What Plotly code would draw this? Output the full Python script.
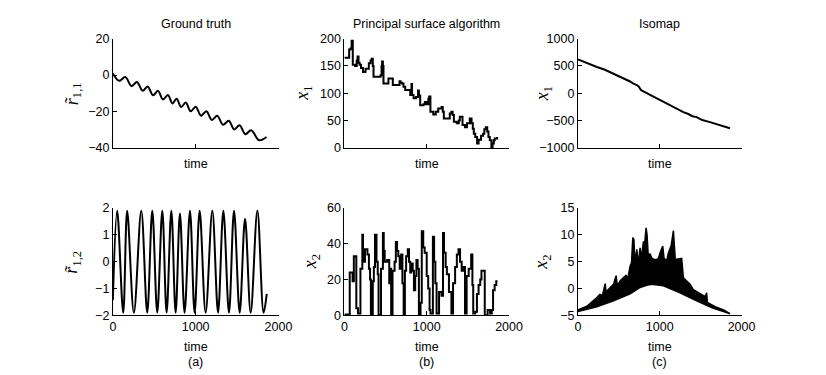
import plotly.graph_objects as go

# ground truth, first coordinate (extrema of the wiggles)
r11_t = [0, 75, 150, 225, 290, 360, 420, 485, 545, 605, 665, 720, 770, 825, 880, 940, 1000,
         1065, 1130, 1195, 1260, 1330, 1400, 1465, 1530, 1600, 1670, 1765, 1855]
r11 = [0.8, -3.2, -1.1, -6.1, -3.8, -8.7, -6.3, -11.1, -8.7, -13.4, -11.0, -15.6, -13.0, -17.6,
       -15.1, -19.9, -17.4, -22.3, -19.9, -24.7, -22.4, -27.3, -25.1, -29.9, -27.6, -32.5,
       -30.3, -35.8, -34.0]

# ground truth, second coordinate (peaks / troughs)
r12_t = [0, 52, 125, 173, 254, 343, 415, 476, 536, 597, 649, 706, 758, 810, 866, 931, 987,
         1048, 1120, 1201, 1270, 1334, 1402, 1463, 1531, 1596, 1664, 1745, 1820, 1858]
r12 = [-1.44, 1.9, -1.9, 1.9, -1.9, 1.9, -1.9, 1.9, -1.9, 1.9, -1.9, 1.9, -1.9, 1.8, -1.9,
       1.9, -1.9, 1.9, -1.9, 1.9, -1.9, 1.9, -1.9, 1.9, -1.9, 1.6, -1.9, 1.9, -1.9, -1.2]

# principal surface algorithm, x1
ps1_t = [0, 50, 58, 75, 88, 96, 102, 130, 150, 160, 172, 185, 202, 226, 257, 297, 318, 332,
         345, 354, 415, 440, 452, 458, 468, 475, 515, 535, 576, 588, 657, 670, 682, 700, 718,
         739, 780, 800, 815, 822, 840, 870, 895, 905, 921, 960, 978, 1000, 1020, 1030, 1045,
         1080, 1110, 1140, 1180, 1195, 1208, 1260, 1280, 1300, 1315, 1330, 1365, 1390, 1402,
         1420, 1435, 1465, 1490, 1523, 1545, 1560, 1572, 1590, 1612, 1630, 1660, 1685, 1700,
         1718, 1735, 1750, 1766, 1786, 1800, 1815, 1826, 1855]
ps1 = [165, 165, 180, 182, 196, 196, 152, 150, 160, 167, 156, 152, 146, 139, 145, 155, 160,
       163, 150, 130, 130, 133, 150, 158, 150, 118, 118, 127, 127, 115, 115, 122, 119, 118,
       112, 106, 106, 97, 117, 97, 91, 93, 105, 96, 78, 80, 84, 80, 90, 94, 66, 61, 66, 72,
       75, 66, 54, 54, 63, 66, 60, 48, 45, 50, 57, 57, 42, 38, 45, 54, 45, 35, 26, 20, 8, 15,
       22, 26, 34, 38, 30, 20, 14, 0, 8, 14, 17, 20]

# principal surface algorithm, x2
ps2_t = [0, 65, 100, 115, 145, 165, 195, 218, 226, 250, 280, 298, 312, 322, 345, 358, 372,
         390, 405, 415, 445, 468, 478, 490, 520, 545, 555, 568, 585, 610, 625, 640, 655, 672,
         690, 705, 720, 735, 750, 770, 785, 800, 812, 830, 845, 860, 875, 890, 905, 925, 940,
         958, 975, 1000, 1018, 1035, 1046, 1075, 1090, 1105, 1120, 1150, 1180, 1198, 1210,
         1230, 1245, 1270, 1300, 1320, 1345, 1366, 1386, 1405, 1425, 1450, 1465, 1485, 1510,
         1540, 1555, 1565, 1590, 1610, 1630, 1650, 1665, 1705, 1740, 1770, 1790, 1806, 1825,
         1845, 1860]
ps2 = [0.5, 24, 19, 33, 4, 1, 26, 45, 30, 37, 34, 26, 20, 0, 19, 27, 45, 30, 23, 0, 26, 46,
       36, 30, 31, 18, 26, 0, 25, 30, 41, 36, 33, 26, 34, 18, 0, 25, 33, 37, 30, 24, 29, 25,
       14, 22, 31, 26, 0, 7, 47, 38, 35, 22, 15, 3, 1, 44, 30, 18, 1, 13, 11, 46, 35, 27, 23,
       13, 1, 18, 27, 34, 37, 30, 25, 27, 1, 22, 26, 34, 17, 1, 2, 12, 17, 20, 25, 0, 3, 1, 3,
       14, 17, 19, 19]

# isomap, x1
iso1_t = [0, 60, 120, 232, 330, 476, 560, 638, 679, 720, 745, 770, 800, 870, 950, 1045, 1150,
          1289, 1350, 1400, 1451, 1520, 1614, 1720, 1858]
iso1 = [620, 580, 540, 480, 430, 327, 280, 215, 174, 150, 120, 60, 34, -20, -80, -162, -240,
        -346, -380, -420, -437, -490, -529, -580, -640]

# isomap, x2 (upper and lower envelope of the dense band)
iso2_top_t = [0, 110, 232, 270, 300, 333, 345, 400, 435, 467, 480, 520, 557, 590, 605, 638,
              655, 671, 685, 695, 720, 735, 760, 775, 801, 815, 833, 845, 860, 880, 902, 930,
              965, 985, 1010, 1037, 1052, 1085, 1105, 1140, 1167, 1180, 1190, 1268, 1289, 1330,
              1370, 1411, 1492, 1555, 1573, 1582, 1620, 1695, 1780, 1858]
iso2_top = [-4.0, -3.3, -1.7, -1.1, -1.3, 0.9, -0.6, 0.2, 0.8, 2.4, 0.6, 1.5, 2.0, 2.5, 1.5,
            4.2, 4.8, 9.5, 9.1, 5.0, 7.3, 4.5, 7.6, 5.5, 8.8, 8.2, 11.3, 10.0, 6.0, 6.5, 5.7,
            5.4, 5.4, 5.7, 6.9, 7.9, 5.7, 5.1, 6.6, 8.0, 10.8, 8.2, 5.4, 5.6, 2.0, 1.4, 0.8,
            -0.2, -1.0, -1.5, -0.8, -2.6, -2.9, -3.5, -4.0, -4.6]
iso2_bot_t = [0, 232, 435, 638, 760, 841, 900, 1045, 1248, 1451, 1654, 1780, 1858]
iso2_bot = [-4.3, -3.4, -2.3, -1.0, 0.2, 0.6, 0.8, 0.5, -0.8, -2.3, -3.7, -4.3, -4.7]

# page offset (body margin) and the way the page ends up in the snapshot
OFF = 8
SX, AX = 0.981, 2.1
SY, AY = 0.96, 5.8
W, H = 810, 375
cols = [(112, 278), (344, 509), (578, 742)]
rows = [(37, 146), (206, 313)]
titles = ["Ground truth", "Principal surface algorithm", "Isomap"]
letters = ["(a)", "(b)", "(c)"]
ylabels = ["<i>r\u0303</i><sub>1,1</sub>", "<i>x</i><sub>1</sub>", "<i>x</i><sub>1</sub>",
           "<i>r\u0303</i><sub>1,2</sub>", "<i>x</i><sub>2</sub>", "<i>x</i><sub>2</sub>"]
ylabel_x = [72, 303, 543, 72, 311, 543]
yranges = [[-40, 20], [0, 200], [-1000, 1000], [-2, 2], [0, 60], [-5, 15]]
ydticks = [20, 50, 500, 1, 20, 5]


def px(x):
    return ((x - AX) / SX - OFF) / W


def py(y):
    return 1 - ((y - AY) / SY - OFF) / H


fig = go.Figure()
fig.add_trace(go.Scatter(x=r11_t, y=r11, mode="lines", line=dict(color="black", width=2, shape="spline"), xaxis="x", yaxis="y"))
fig.add_trace(go.Scatter(x=ps1_t, y=ps1, mode="lines", line=dict(color="black", width=2, shape="hv"), xaxis="x2", yaxis="y2"))
fig.add_trace(go.Scatter(x=iso1_t, y=iso1, mode="lines", line=dict(color="black", width=2), xaxis="x3", yaxis="y3"))
fig.add_trace(go.Scatter(x=r12_t, y=r12, mode="lines", line=dict(color="black", width=2, shape="spline"), xaxis="x4", yaxis="y4"))
fig.add_trace(go.Scatter(x=ps2_t, y=ps2, mode="lines", line=dict(color="black", width=2, shape="hv"), xaxis="x5", yaxis="y5"))
# dense band drawn as closed polygon: upper envelope then lower envelope back
fig.add_trace(go.Scatter(x=iso2_top_t + iso2_bot_t[::-1], y=iso2_top + iso2_bot[::-1], mode="lines",
                         fill="toself", fillcolor="black", line=dict(color="black", width=1.5),
                         xaxis="x6", yaxis="y6"))

font = dict(family="Liberation Sans, Arial, sans-serif", size=12.5, color="black")
axstyle = dict(showline=True, linecolor="black", linewidth=1, ticks="inside", ticklen=4,
               tickcolor="black", showgrid=False, zeroline=False, tickfont=font)

layout = {}
ann = []
for r in range(2):
    for c in range(3):
        k = r * 3 + c + 1
        x0, x1 = cols[c]
        y0, y1 = rows[r]
        sx = "" if k == 1 else str(k)
        layout["xaxis" + sx] = dict(axstyle, domain=[px(x0), px(x1)], range=[0, 2000],
                                    tickvals=[0, 1000, 2000], showticklabels=(r == 1),
                                    anchor="y" + sx)
        layout["yaxis" + sx] = dict(axstyle, domain=[py(y1), py(y0)], range=yranges[k - 1],
                                    dtick=ydticks[k - 1], tick0=0, anchor="x" + sx)
        ann.append(dict(text=ylabels[k - 1], x=px(ylabel_x[k - 1]), y=py((y0 + y1) / 2),
                        xref="paper", yref="paper", xanchor="center", yanchor="middle",
                        showarrow=False, textangle=-90,
                        font=dict(family="Liberation Serif, serif", size=18, color="black")))
        ty = 162 if r == 0 else 345
        ann.append(dict(text="time", x=px((x0 + x1) / 2), y=py(ty), xref="paper", yref="paper",
                        xanchor="center", yanchor="middle", showarrow=False, font=font))

for c in range(3):
    x0, x1 = cols[c]
    ann.append(dict(text=titles[c], x=px((x0 + x1) / 2), y=py(22), xref="paper", yref="paper",
                    xanchor="center", yanchor="middle", showarrow=False, font=font))
    ann.append(dict(text=letters[c], x=px((x0 + x1) / 2), y=py(360), xref="paper", yref="paper",
                    xanchor="center", yanchor="middle", showarrow=False, font=font))

fig.update_layout(layout)
fig.update_layout(width=W, height=H, autosize=False, margin=dict(l=0, r=0, t=0, b=0),
                  paper_bgcolor="white", plot_bgcolor="white", showlegend=False,
                  annotations=ann, font=font)
fig.write_html("out.html")
